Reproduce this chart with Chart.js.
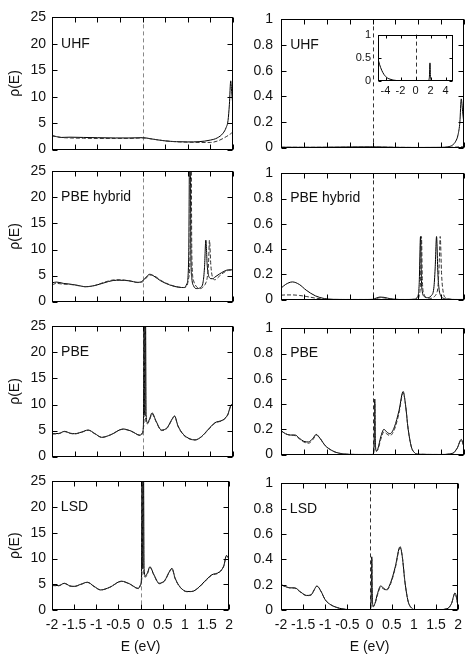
<!DOCTYPE html>
<html>
<head>
<meta charset="utf-8">
<script src="https://cdn.jsdelivr.net/npm/chart.js@4.4.0/dist/chart.umd.min.js"></script>
<style>
  html, body { margin: 0; padding: 0; background: #fff; }
  #wrap { position: relative; width: 469px; height: 670px; overflow: hidden; }
  #wrap canvas { position: absolute; }
</style>
</head>
<body>
<div id="wrap"></div>
<script>
// ---- ticks / labels ----
const xTicks = [-2, -1.5, -1, -0.5, 0, 0.5, 1, 1.5, 2];
const leftYTicks = [0, 5, 10, 15, 20, 25];
const rightYTicks = [0, 0.2, 0.4, 0.6, 0.8, 1];
const insetXTicks = [-4, -2, 0, 2, 4];
const insetYTicks = [0, 0.5, 1];
const panelLabels = ['UHF', 'PBE hybrid', 'PBE', 'LSD'];
const fermiLevel = 0;

// ---- UHF ----
const uhfLeftE = [-2, -1.9, -1.8, -1.6, -1.3, -1.0, -0.6, -0.3, 0, 0.25, 0.5, 0.75, 1.0, 1.25, 1.5, 1.65, 1.78, 1.85, 1.89, 1.92, 1.95, 1.97, 2.0];
const uhfLeftUp = [2.65, 2.45, 2.3, 2.35, 2.3, 2.25, 2.2, 2.2, 2.25, 1.95, 1.65, 1.5, 1.45, 1.5, 1.8, 2.2, 3.1, 4.2, 5.5, 8.5, 13.0, 11.0, 8.0];
const uhfLeftDn = [2.6, 2.45, 2.3, 2.2, 2.15, 2.1, 2.1, 2.1, 2.2, 1.95, 1.65, 1.48, 1.4, 1.35, 1.35, 1.6, 2.1, 2.45, 2.65, 2.85, 3.0, 3.15, 3.35];

const uhfRightE = [-2, -1.5, -1.0, -0.5, 0, 0.5, 1.0, 1.5, 1.65, 1.75, 1.82, 1.87, 1.91, 1.94, 1.97, 2.0];
const uhfRightUp = [0.003, 0.002, 0.003, 0.005, 0.006, 0.002, 0.001, 0.002, 0.006, 0.02, 0.05, 0.1, 0.2, 0.38, 0.28, 0.18];
const uhfRightDn = [0.002, 0.002, 0.002, 0.003, 0.004, 0.002, 0.001, 0.001, 0.002, 0.003, 0.004, 0.005, 0.006, 0.007, 0.008, 0.01];

const insetE = [-5, -4.8, -4.5, -4.2, -4.0, -3.7, -3.4, -3.0, -2.5, -2, -1, 0, 1, 1.7, 1.85, 1.93, 2.0, 2.2, 3, 4, 5];
const insetDos = [0.48, 0.36, 0.23, 0.14, 0.1, 0.06, 0.04, 0.02, 0.01, 0.005, 0.003, 0.005, 0.002, 0.01, 0.08, 0.39, 0.08, 0.01, 0.004, 0.005, 0.006];

// ---- PBE hybrid ----
const hybE = [-2, -1.9, -1.75, -1.6, -1.45, -1.25, -1.05, -0.85, -0.65, -0.5, -0.3, -0.1, 0, 0.08, 0.16, 0.25, 0.4, 0.6, 0.8, 0.92, 0.98, 1.02, 1.05, 1.07, 1.09, 1.13, 1.2, 1.28, 1.34, 1.37, 1.40, 1.43, 1.46, 1.48, 1.51, 1.55, 1.6, 1.7, 1.8, 1.9, 2.0];
const hybLeftUp = [3.6, 3.75, 3.5, 3.35, 3.15, 2.85, 3.1, 3.6, 4.05, 4.1, 4.0, 3.7, 3.95, 4.7, 5.25, 4.9, 4.0, 3.2, 2.75, 2.7, 3.4, 8, 40, 9, 4.5, 3.0, 2.5, 2.7, 3.8, 6.5, 11.8, 7.0, 5.0, 4.6, 4.4, 4.4, 4.7, 5.3, 5.8, 6.1, 6.1];
const hybLeftDn = [3.2, 3.5, 3.35, 3.3, 3.1, 2.85, 3.1, 3.7, 4.15, 4.2, 4.0, 3.65, 3.8, 4.5, 5.1, 5.0, 4.1, 3.25, 2.8, 2.7, 3.0, 4.5, 9, 40, 9, 4.0, 2.8, 2.5, 2.8, 3.1, 3.6, 4.6, 7.5, 11.8, 7.0, 4.6, 4.2, 4.9, 5.6, 6.0, 6.1];
const hybRightUp = [0.09, 0.12, 0.14, 0.12, 0.075, 0.03, 0.008, 0.002, 0.001, 0.001, 0.001, 0.001, 0.002, 0.012, 0.02, 0.018, 0.006, 0.001, 0.001, 0.003, 0.02, 0.12, 0.5, 0.15, 0.06, 0.025, 0.015, 0.03, 0.09, 0.25, 0.5, 0.2, 0.07, 0.04, 0.02, 0.01, 0.005, 0.002, 0.001, 0.001, 0.001];
const hybRightDn = [0.035, 0.037, 0.037, 0.033, 0.025, 0.012, 0.004, 0.001, 0.001, 0.001, 0.001, 0.001, 0.001, 0.008, 0.015, 0.014, 0.005, 0.001, 0.001, 0.002, 0.005, 0.03, 0.15, 0.5, 0.15, 0.04, 0.015, 0.01, 0.02, 0.03, 0.05, 0.1, 0.3, 0.5, 0.2, 0.05, 0.015, 0.004, 0.001, 0.001, 0.001];

// ---- PBE ----
const pbeLeftE = [-2, -1.85, -1.72, -1.6, -1.5, -1.35, -1.2, -1.05, -0.9, -0.7, -0.43, -0.25, -0.05, 0, 0.02, 0.035, 0.05, 0.065, 0.08, 0.11, 0.16, 0.21, 0.3, 0.42, 0.55, 0.64, 0.71, 0.78, 0.9, 1.05, 1.16, 1.3, 1.45, 1.6, 1.78, 1.88, 1.97, 2.0];
const pbeLeftUp = [4.4, 4.45, 4.85, 4.5, 4.4, 4.7, 5.1, 4.4, 3.7, 4.2, 5.3, 4.9, 4.1, 4.6, 6, 30, 8, 30, 8, 6.5, 7.3, 8.4, 6.8, 5.1, 5.6, 7.0, 7.8, 6.0, 4.3, 3.4, 3.2, 3.8, 5.2, 6.5, 7.05, 8, 10, 9.8];
const pbeLeftDn = [4.35, 4.4, 4.8, 4.45, 4.35, 4.65, 5.05, 4.35, 3.7, 4.2, 5.25, 4.85, 4.05, 4.5, 5.5, 8, 30, 8, 6.5, 6.3, 7.1, 8.2, 6.7, 5.0, 5.5, 6.9, 7.7, 5.9, 4.2, 3.35, 3.2, 3.8, 5.1, 6.4, 7.0, 7.9, 9.9, 9.7];

const pbeRightE = [-2, -1.9, -1.8, -1.69, -1.6, -1.5, -1.4, -1.3, -1.23, -1.15, -1.03, -0.9, -0.8, -0.65, -0.5, -0.3, 0, 0.02, 0.04, 0.05, 0.06, 0.08, 0.12, 0.18, 0.25, 0.31, 0.38, 0.48, 0.58, 0.67, 0.72, 0.78, 0.85, 0.92, 1.0, 1.5, 1.75, 1.85, 1.94, 2.0];
const pbeRightUp = [0.19, 0.165, 0.155, 0.155, 0.13, 0.105, 0.1, 0.13, 0.16, 0.13, 0.07, 0.035, 0.018, 0.006, 0.002, 0.001, 0.001, 0.01, 0.15, 0.44, 0.15, 0.03, 0.05, 0.14, 0.2, 0.18, 0.165, 0.22, 0.35, 0.5, 0.4, 0.2, 0.06, 0.015, 0.003, 0.001, 0.01, 0.05, 0.12, 0.06];
const pbeRightDn = [0.19, 0.165, 0.155, 0.15, 0.125, 0.1, 0.09, 0.12, 0.155, 0.13, 0.07, 0.035, 0.018, 0.006, 0.002, 0.001, 0.001, 0.008, 0.12, 0.4, 0.12, 0.025, 0.04, 0.12, 0.18, 0.165, 0.15, 0.2, 0.33, 0.49, 0.4, 0.2, 0.06, 0.015, 0.003, 0.001, 0.01, 0.05, 0.115, 0.06];

// ---- LSD ----
const lsdLeftE = [-2, -1.85, -1.72, -1.6, -1.5, -1.35, -1.2, -1.05, -0.9, -0.7, -0.43, -0.25, -0.05, 0, 0.02, 0.035, 0.05, 0.065, 0.08, 0.11, 0.16, 0.21, 0.3, 0.42, 0.55, 0.64, 0.71, 0.78, 0.9, 1.05, 1.16, 1.3, 1.45, 1.6, 1.78, 1.88, 1.94, 2.0];
const lsdLeftUp = [4.8, 4.75, 5.2, 4.7, 4.6, 5.0, 5.4, 4.6, 3.9, 4.4, 5.6, 5.1, 4.2, 4.9, 6.2, 30, 8, 30, 8, 6.6, 7.3, 8.4, 6.9, 5.2, 5.8, 7.3, 8.1, 6.2, 4.4, 3.6, 3.6, 4.3, 5.6, 6.8, 7.4, 8.6, 10.6, 10.0];
const lsdLeftDn = [4.75, 4.7, 5.15, 4.65, 4.55, 4.95, 5.35, 4.55, 3.9, 4.4, 5.55, 5.05, 4.15, 4.8, 5.6, 8, 30, 8, 6.6, 6.4, 7.1, 8.3, 6.8, 5.1, 5.7, 7.2, 8.0, 6.1, 4.35, 3.55, 3.6, 4.25, 5.5, 6.7, 7.3, 8.5, 10.5, 9.9];

const lsdRightE = [-2, -1.9, -1.8, -1.69, -1.55, -1.42, -1.32, -1.25, -1.19, -1.1, -1.0, -0.87, -0.74, -0.6, -0.45, -0.2, 0, 0.02, 0.04, 0.05, 0.06, 0.08, 0.12, 0.18, 0.25, 0.31, 0.38, 0.48, 0.58, 0.69, 0.74, 0.8, 0.87, 0.95, 1.02, 1.5, 1.75, 1.85, 1.93, 2.0];
const lsdRightUp = [0.2, 0.185, 0.175, 0.175, 0.14, 0.115, 0.12, 0.16, 0.19, 0.15, 0.08, 0.04, 0.02, 0.008, 0.003, 0.001, 0.001, 0.01, 0.15, 0.42, 0.15, 0.03, 0.05, 0.13, 0.19, 0.175, 0.16, 0.22, 0.34, 0.5, 0.42, 0.22, 0.07, 0.015, 0.003, 0.001, 0.01, 0.05, 0.135, 0.03];
const lsdRightDn = [0.2, 0.185, 0.175, 0.172, 0.138, 0.113, 0.118, 0.157, 0.187, 0.148, 0.08, 0.04, 0.02, 0.008, 0.003, 0.001, 0.001, 0.008, 0.12, 0.4, 0.12, 0.025, 0.045, 0.12, 0.18, 0.168, 0.155, 0.21, 0.33, 0.49, 0.42, 0.22, 0.07, 0.015, 0.003, 0.001, 0.01, 0.05, 0.13, 0.03];

const FONT = '"Liberation Sans", Arial, sans-serif';

function pts(xs, ys) {
    return xs.map((x, i) => ({ x: x, y: ys[i] }));
}

// frame, inward ticks, zero line, labels (gnuplot look)
const framePlugin = {
    id: 'frame',
    beforeDatasetsDraw(chart, args, o) {
        const { ctx, chartArea: a, scales: { x } } = chart;
        ctx.save();
        if (o.fillWhite) {
            ctx.fillStyle = '#fff';
            ctx.fillRect(a.left, a.top, a.right - a.left, a.bottom - a.top);
        }
        const px = Math.round(x.getPixelForValue(fermiLevel)) + 0.5;
        ctx.strokeStyle = o.zeroColor;
        ctx.lineWidth = 1;
        ctx.setLineDash([4, 3]);
        ctx.beginPath();
        ctx.moveTo(px, a.top);
        ctx.lineTo(px, a.bottom);
        ctx.stroke();
        ctx.restore();
    },
    afterDatasetsDraw(chart, args, o) {
        const { ctx, chartArea: a, scales: { x, y } } = chart;
        const L = Math.round(a.left) + 0.5, R = Math.round(a.right) - 0.5;
        const T = Math.round(a.top) + 0.5, B = Math.round(a.bottom) - 0.5;
        ctx.save();
        ctx.strokeStyle = '#000';
        ctx.lineWidth = 1;
        ctx.strokeRect(L, T, R - L, B - T);
        ctx.beginPath();
        x.ticks.forEach(t => {
            const p = Math.round(x.getPixelForValue(t.value)) + 0.5;
            ctx.moveTo(p, B); ctx.lineTo(p, B - o.tick);
            ctx.moveTo(p, T); ctx.lineTo(p, T + o.tick);
        });
        y.ticks.forEach(t => {
            const p = Math.round(y.getPixelForValue(t.value)) + 0.5;
            ctx.moveTo(L, p); ctx.lineTo(L + o.tick, p);
            ctx.moveTo(R, p); ctx.lineTo(R - o.tick, p);
        });
        ctx.stroke();

        ctx.fillStyle = '#111';
        ctx.font = '14px ' + FONT;
        if (o.label) {
            ctx.textAlign = 'left';
            ctx.textBaseline = 'middle';
            ctx.fillText(o.label, x.getPixelForValue(o.labelX), y.getPixelForValue(o.labelY));
        }
        if (o.yTitle) {
            ctx.save();
            ctx.translate(a.left - 37, (a.top + a.bottom) / 2);
            ctx.rotate(-Math.PI / 2);
            ctx.textAlign = 'center';
            ctx.textBaseline = 'middle';
            ctx.fillText(o.yTitle, 0, 0);
            ctx.restore();
        }
        if (o.xTitle) {
            ctx.textAlign = 'center';
            ctx.textBaseline = 'middle';
            ctx.fillText(o.xTitle, (a.left + a.right) / 2, a.bottom + 37);
        }
        ctx.restore();
    }
};

function makePanel(p) {
    const c = document.createElement('canvas');
    c.width = p.w;
    c.height = p.h;
    c.style.left = p.left + 'px';
    c.style.top = p.top + 'px';
    document.getElementById('wrap').appendChild(c);

    const sets = [{
        data: pts(p.E, p.up),
        borderColor: '#000',
        borderWidth: 1,
        pointRadius: 0,
        cubicInterpolationMode: 'monotone',
        fill: false
    }];
    if (p.dn) {
        sets.push({
            data: pts(p.E, p.dn),
            borderColor: '#333',
            borderWidth: 1,
            borderDash: [4, 2],
            pointRadius: 0,
            cubicInterpolationMode: 'monotone',
            fill: false
        });
    }

    new Chart(c, {
        type: 'line',
        data: { datasets: sets.reverse() },
        options: {
            responsive: false,
            animation: false,
            devicePixelRatio: 1,
            events: [],
            layout: { padding: { left: 0, right: p.padR, top: p.padT, bottom: p.padB } },
            plugins: {
                legend: { display: false },
                tooltip: { enabled: false },
                frame: {
                    label: p.label, labelX: p.labelX, labelY: p.labelY,
                    yTitle: p.yTitle, xTitle: p.xTitle,
                    tick: p.tick, zeroColor: p.zeroColor, fillWhite: p.fillWhite
                }
            },
            scales: {
                x: {
                    type: 'linear',
                    min: p.xMin, max: p.xMax,
                    grid: { display: false, drawTicks: false },
                    border: { display: false },
                    afterBuildTicks: s => { s.ticks = p.xt.map(v => ({ value: v })); },
                    afterFit: s => { s.height = p.xh; },
                    ticks: {
                        display: p.showX,
                        autoSkip: false,
                        maxRotation: 0,
                        padding: p.xPad,
                        color: '#111',
                        font: { family: FONT, size: p.font },
                        callback: v => String(v)
                    }
                },
                y: {
                    min: 0, max: p.yMax,
                    grid: { display: false, drawTicks: false },
                    border: { display: false },
                    afterBuildTicks: s => { s.ticks = p.yt.map(v => ({ value: v })); },
                    afterFit: s => { s.width = p.yw; },
                    ticks: {
                        autoSkip: false,
                        padding: p.yPad,
                        color: '#111',
                        font: { family: FONT, size: p.font },
                        callback: v => String(v)
                    }
                }
            }
        },
        plugins: [framePlugin]
    });
}

const rows = [
    { top: 13, bottom: 154 },
    { top: 167, bottom: 306 },
    { top: 322, bottom: 461 },
    { top: 477, bottom: 610 }
];
const leftSeries = [[uhfLeftE, uhfLeftUp, uhfLeftDn], [hybE, hybLeftUp, hybLeftDn], [pbeLeftE, pbeLeftUp, pbeLeftDn], [lsdLeftE, lsdLeftUp, lsdLeftDn]];
const rightSeries = [[uhfRightE, uhfRightUp, uhfRightDn], [hybE, hybRightUp, hybRightDn], [pbeRightE, pbeRightUp, pbeRightDn], [lsdRightE, lsdRightUp, lsdRightDn]];

rows.forEach((r, i) => {
    const last = i === rows.length - 1;
    const xh = last ? 45 : 0;
    const h = (r.bottom - r.top) + 20 + xh;
    const common = {
        top: r.top - 10, h: h, padT: 10, padB: 10,
        xMin: -2, xMax: 2, xt: xTicks, xh: xh, showX: last, xPad: 7,
        font: 14, tick: 5, label: panelLabels[i], labelX: -1.8,
        xTitle: last ? 'E (eV)' : null
    };
    makePanel(Object.assign({}, common, {
        left: 0, w: 240, yw: 52, padR: 7, yPad: 6,
        yMax: 25, yt: leftYTicks, labelY: 20, yTitle: 'ρ(E)', zeroColor: '#888',
        E: leftSeries[i][0], up: leftSeries[i][1], dn: leftSeries[i][2]
    }));
    makePanel(Object.assign({}, common, {
        left: 240, w: 229, yw: 41, padR: 5, yPad: 8,
        yMax: 1, yt: rightYTicks, labelY: 0.8, yTitle: null, zeroColor: '#333',
        E: rightSeries[i][0], up: rightSeries[i][1], dn: rightSeries[i][2]
    }));
});

// inset in the UHF right panel
makePanel({
    left: 348, top: 21, w: 111, h: 82, padT: 7, padB: 2, padR: 6,
    xMin: -5, xMax: 5, xt: insetXTicks, xh: 20, showX: true, xPad: 3,
    yMax: 1, yt: insetYTicks, yw: 30, yPad: 7,
    font: 11, tick: 3, label: null, yTitle: null, xTitle: null,
    zeroColor: '#333', fillWhite: true,
    E: insetE, up: insetDos, dn: null
});
</script>
</body>
</html>
